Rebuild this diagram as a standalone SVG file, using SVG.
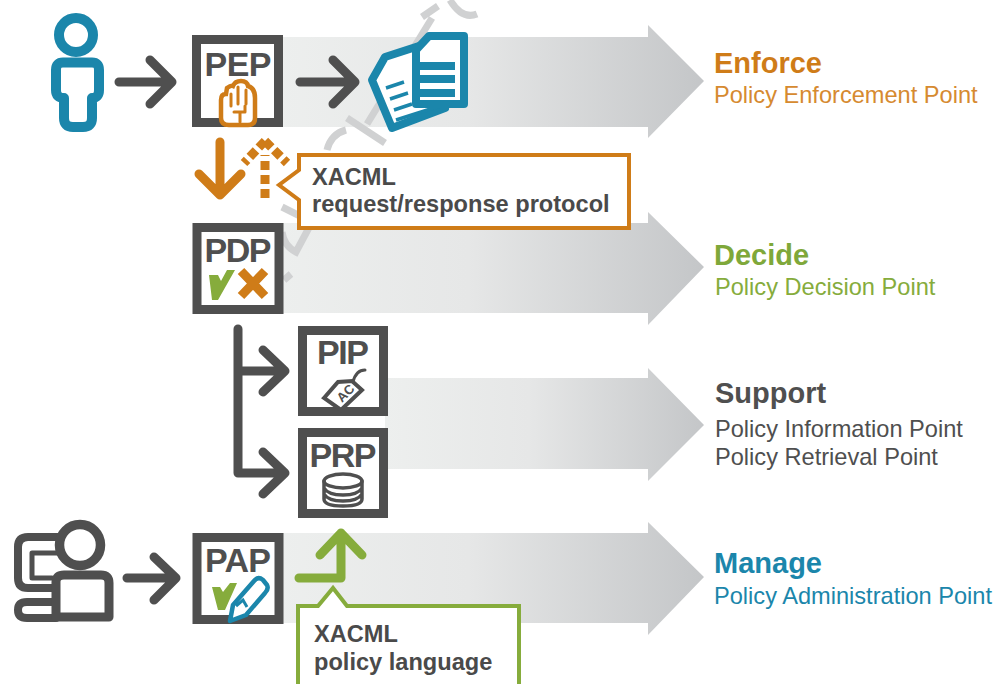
<svg xmlns="http://www.w3.org/2000/svg" width="995" height="684" viewBox="0 0 995 684">
<defs>
<linearGradient id="band" x1="0" x2="1" y1="0" y2="0"><stop offset="0" stop-color="#edefee"/><stop offset="0.45" stop-color="#e6e7e7"/><stop offset="1" stop-color="#c4c6c8"/></linearGradient>
</defs>
<style>
text{font-family:"Liberation Sans",Arial,sans-serif}
.box{fill:#fff;stroke:#4f4f4f;stroke-width:9}
.code{font-size:34px;font-weight:700;fill:#4f4f4f;text-anchor:middle}
.head{font-size:29px;font-weight:700}
.sub{font-size:23.6px}
.note{font-size:23.6px;font-weight:700;fill:#4a4a4a}
.ln{fill:none;stroke-linecap:round;stroke-linejoin:round}
.g{stroke:#4f4f4f}
.o{stroke:#cf7c18}
.b{stroke:#1b86ab}
.v{stroke:#86ac3c}
.band{fill:url(#band)}
</style>
<rect width="995" height="684" fill="#fff"/>
<g id="bands">
<path class="band" d="M275 37H648V25L704 81L648 138V127H275Z"/>
<path class="band" d="M275 223H648V212L704 267L648 325V313H275Z"/>
<path class="band" d="M385 378H648V368L704 425L648 481V469H385Z"/>
<path class="band" d="M275 533H648V522L704 577L648 635V623H275Z"/>
</g>
<g id="watermark" fill="none" stroke="#d0d1d2" stroke-width="7">
<path d="M367 124L432 18M347 118L385 143M422 17L438 6M450 0Q462 20 477 14"/>
<path d="M327 150Q331 134 346 130"/>
<path d="M282 207L312 222L296 252Q284 246 282 232M284 280L291 274"/>
</g>
<g id="connectors">
<g class="ln g" stroke-width="9">
<path d="M119 82H172M150 60L172 82L150 104"/>
<path d="M300 82H355M333 60L355 82L333 104"/>
<path d="M238 329V473H284M238 371H284M263 350L285 371L263 392M263 452L285 473L263 494"/>
<path d="M127 578H176M154 557L176 578L154 600"/>
</g>
<path class="ln o" stroke-width="9" d="M220 142V195M199 174L220 195L241 174"/>
<path class="ln v" stroke-width="9" d="M299 578H341V533M320 555L341 533L362 555"/>
<path fill="none" stroke="#cf7c18" stroke-width="9" stroke-dasharray="9 5" d="M265 198V155"/>
<path fill="none" stroke="#cf7c18" stroke-width="9" stroke-dasharray="9 4" d="M265 141L244 163M265 141L287 163"/>
</g>
<g id="pep"><rect class="box" x="196.500" y="39.500" width="82" height="83"/><text class="code" x="238" y="76" textLength="67">PEP</text>
<path d="M221 100Q221 94 226 94L227 88Q231 85 233 86Q235 81 241 81Q247 81 248 86Q255 88 255 98V118Q255 125 248 125H229Q221 125 221 118Z" fill="#fff" stroke="#cf7c18" stroke-width="4.500"/><path class="ln o" stroke-width="3" d="M231 94V106M238 87V104M246 90V104M234 112H245V106M240 112V122"/></g>
<g id="pdp"><rect class="box" x="197" y="227.500" width="82" height="82"/><text class="code" x="238" y="262" textLength="67">PDP</text>
<path d="M209 275H218L221 281L227 270H235L218 300H212Z" fill="#86ac3c"/><path fill="none" stroke="#cf7c18" stroke-width="9" d="M241 271L265 296M265 271L241 296"/></g>
<g id="pip"><rect class="box" x="302.500" y="330.500" width="81" height="81"/><text class="code" x="343" y="364" textLength="52">PIP</text>
<path d="M324 398L338 382L352 381L362 390L341 410Z" fill="#fff" stroke="#4f4f4f" stroke-width="4"/><path class="ln g" stroke-width="3" d="M353 382Q356 370 365 370"/><text x="338" y="403" font-size="13" font-weight="700" fill="#4f4f4f" transform="rotate(-45 340 398)">AC</text></g>
<g id="prp"><rect class="box" x="302.500" y="432.500" width="81" height="81"/><text class="code" x="343" y="467" textLength="67">PRP</text>
<ellipse cx="343" cy="481" rx="19" ry="7" fill="#fff" stroke="#4f4f4f" stroke-width="3.500"/><path class="ln g" stroke-width="3.500" d="M324 481V499Q324 506 343 506Q362 506 362 499V481M324 488Q328 495 343 495Q358 495 362 488M324 494Q328 501 343 501Q358 501 362 494"/></g>
<g id="pap"><rect class="box" x="197" y="537.500" width="82" height="82"/><text class="code" x="238" y="572" textLength="66">PAP</text>
<path d="M212 587H220L223 592L230 583H237L225 610H218Z" fill="#86ac3c"/><path d="M230 621L233 605L254 581Q258 576 263 580L267 585Q269 589 265 593L246 615Z" fill="#fff" stroke="#1b86ab" stroke-width="4.500" stroke-linejoin="round"/><path d="M236 606L243 600L247 607" fill="none" stroke="#1b86ab" stroke-width="3"/></g>
<g id="user" class="ln b"><circle cx="76" cy="35" r="17" stroke-width="10"/><path stroke-width="10" d="M63 62.500H92Q99 62.500 99 70V90Q99 98 92 98V118Q92 127 83 127H73Q64 127 64 118V98Q56 98 56 90V70Q56 62.500 63 62.500Z"/></g>
<g id="resource"><path d="M372 80L385 57L422 45L445 108L392 128Z" fill="#fff" stroke="#1b86ab" stroke-width="8" stroke-linejoin="round"/><path d="M386 88L404 82M390 99L408 93M394 110L412 104M396 120L440 106" stroke="#1b86ab" stroke-width="3.500" fill="none"/><path d="M416 50L429 36H464V104H416Z" fill="#fff" stroke="#1b86ab" stroke-width="8" stroke-linejoin="round"/><path d="M418 66H455M418 79H455M418 93H455" stroke="#1b86ab" stroke-width="8"/></g>
<g id="admin" class="ln g"><path stroke-width="8" d="M58 537H28Q18 537 18 547V578Q18 588 28 588H52M52 602H27Q18 602 18 610Q18 618 27 618H56"/><path stroke-width="5" d="M58 553H32V578H52"/><circle cx="80" cy="545" r="20.500" fill="#fff" stroke-width="9.500"/><path stroke-width="9" fill="#fff" d="M56 617V582Q56 575 64 575H101Q109 575 109 583V617Z"/></g>
<g id="note-protocol"><path d="M299 155H629V228H299V200L279 185L299 170Z" fill="#fff" stroke="#cf7c18" stroke-width="4"/><text class="note" x="312" y="185">XACML</text><text class="note" x="312" y="212">request/response protocol</text></g>
<g id="note-language"><path d="M298 606H318L333 588L347 606H519V690H298Z" fill="#fff" stroke="#86ac3c" stroke-width="4"/><text class="note" x="314" y="642">XACML</text><text class="note" x="314" y="670">policy language</text></g>
<g id="legend">
<text class="head" x="714" y="73" fill="#cf7c18">Enforce</text><text class="sub" x="714" y="103" fill="#d68a30">Policy Enforcement Point</text>
<text class="head" x="714" y="265" fill="#7fa83a">Decide</text><text class="sub" x="715" y="295" fill="#86ac3c">Policy Decision Point</text>
<text class="head" x="715" y="403" fill="#4f4f4f">Support</text><text class="sub" x="715" y="437" fill="#4f4f4f">Policy Information Point</text><text class="sub" x="715" y="465" fill="#4f4f4f">Policy Retrieval Point</text>
<text class="head" x="714" y="573" fill="#1b86ab">Manage</text><text class="sub" x="714" y="604" fill="#1b86ab">Policy Administration Point</text>
</g>
</svg>
